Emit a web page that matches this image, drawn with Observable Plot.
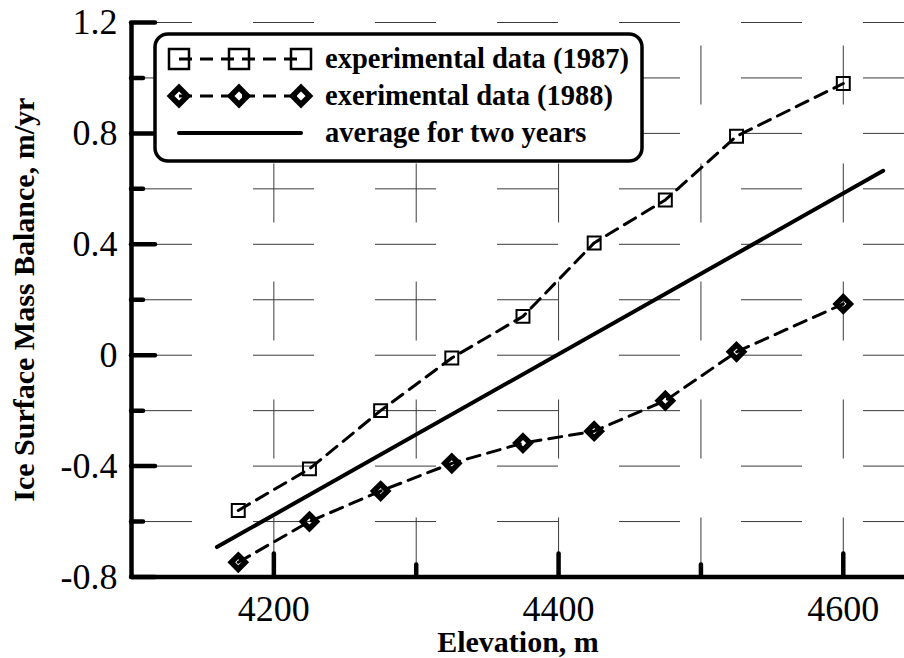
<!DOCTYPE html>
<html>
<head>
<meta charset="utf-8">
<script src="https://cdn.jsdelivr.net/npm/d3@7"></script>
<script src="https://cdn.jsdelivr.net/npm/@observablehq/plot@0.6"></script>
<style>
  html, body { margin: 0; padding: 0; background: #fff; }
  #chart svg { display: block; }
</style>
</head>
<body>
<div id="chart"></div>
<script>
// ---- data ----
const elevations = [4175, 4225, 4275, 4325, 4375, 4425, 4475, 4525, 4600];
const balance1987 = [-0.56, -0.41, -0.20, -0.01, 0.14, 0.405, 0.56, 0.79, 0.98];
const balance1988 = [-0.747, -0.60, -0.49, -0.39, -0.317, -0.274, -0.164, 0.012, 0.185];
const averageX = [4160, 4628];
const averageY = [-0.692, 0.665];

const seriesNames = ["experimental data (1987)", "exerimental data (1988)", "average for two years"];
const xTitle = "Elevation, m";
const yTitle = "Ice Surface Mass Balance, m/yr";

const xDomain = [4100, 4643];
const yDomain = [-0.8, 1.2];
const xMajor = [4200, 4400, 4600];
const xMinor = [4300, 4500];
const xGrid = [4200, 4300, 4400, 4500, 4600];
const yMajor = [-0.8, -0.4, 0, 0.4, 0.8, 1.2];
const yMinor = [-0.6, -0.2, 0.2, 0.6, 1.0];
const yGrid = [-0.6, -0.4, -0.2, 0, 0.2, 0.4, 0.6, 0.8, 1.0, 1.2];

const d1987 = elevations.map((x, i) => ({x, y: balance1987[i]}));
const d1988 = elevations.map((x, i) => ({x, y: balance1988[i]}));
const dAvg = averageX.map((x, i) => ({x, y: averageY[i]}));

const W = 904, H = 658;
const mL = 131, mR = 0, mT = 22, mB = 81.5;
const fw = W - mL - mR, fh = H - mT - mB;
const serif = "'Liberation Serif', 'Times New Roman', serif";
const dash = "13 8";

const plot = Plot.plot({
  width: W, height: H,
  marginLeft: mL, marginRight: mR, marginTop: mT, marginBottom: mB,
  x: {domain: xDomain},
  y: {domain: yDomain},
  style: {fontFamily: serif, background: "#fff", color: "#000", overflow: "visible"},
  marks: [
    Plot.ruleY(yGrid, {y: d => d, stroke: "#3a3a3a", strokeWidth: 1, strokeDasharray: "61 61"}),
    Plot.ruleX(xGrid, {x: d => d, y1: yDomain[0], y2: yDomain[1], stroke: "#3a3a3a", strokeWidth: 1, strokeDasharray: "59 59"}),
    Plot.line(dAvg, {x: "x", y: "y", stroke: "#000", strokeWidth: 4, strokeLinecap: "round"}),
    Plot.line(d1987, {x: "x", y: "y", stroke: "#000", strokeWidth: 3, strokeDasharray: dash}),
    Plot.line(d1988, {x: "x", y: "y", stroke: "#000", strokeWidth: 3, strokeDasharray: dash}),
    Plot.dot(d1987, {x: "x", y: "y", symbol: "square", r: 7.3, fill: "none", stroke: "#000", strokeWidth: 2}),
    Plot.dot(d1988, {x: "x", y: "y", symbol: "diamond2", r: 6.3, fill: "none", stroke: "#000", strokeWidth: 5.5, strokeLinejoin: "miter"}),
    Plot.tickY(yMajor, {y: d => d, insetRight: fw - 24, stroke: "#000", strokeWidth: 4.5, strokeLinecap: "round"}),
    Plot.tickY(yMinor, {y: d => d, insetRight: fw - 12, stroke: "#000", strokeWidth: 4.5, strokeLinecap: "round"}),
    Plot.tickX(xMajor, {x: d => d, insetTop: fh - 23, stroke: "#000", strokeWidth: 4.5, strokeLinecap: "round"}),
    Plot.tickX(xMinor, {x: d => d, insetTop: fh - 12, stroke: "#000", strokeWidth: 4.5, strokeLinecap: "round"}),
    Plot.ruleX([xDomain[0]], {stroke: "#000", strokeWidth: 4.5}),
    Plot.ruleY([yDomain[0]], {stroke: "#000", strokeWidth: 4.5}),
    Plot.axisX({ticks: xMajor, tickSize: 0, tickPadding: 18, fontSize: 36, tickFormat: d => String(d), label: null}),
    Plot.axisY({ticks: yMajor, tickSize: 0, tickPadding: 14, fontSize: 36, tickFormat: d => String(d), label: null}),
    Plot.text([xTitle], {text: d => d, frameAnchor: "bottom", textAnchor: "middle", lineAnchor: "middle", dy: 65, fontSize: 30, fontWeight: "bold"}),
    Plot.text([yTitle], {text: d => d, frameAnchor: "left", textAnchor: "middle", lineAnchor: "middle", dx: -107.6, rotate: -90, fontSize: 30, fontWeight: "bold"})
  ]
});

document.getElementById("chart").appendChild(plot);

// ---- legend (drawn inside the plot frame) ----
const svg = d3.select(plot);
const lg = svg.append("g").attr("class", "legend").attr("text-anchor", "start");
lg.append("rect")
  .attr("x", 155).attr("y", 34).attr("width", 487).attr("height", 127)
  .attr("rx", 13).attr("ry", 13)
  .attr("fill", "#fff").attr("stroke", "#000").attr("stroke-width", 3.5);

const rowsY = [59, 96, 133];
const symX = [179, 239, 301];
const sq = d3.symbol(d3.symbolSquare, 400)();
const dm = d3.symbol(d3.symbolDiamond2, 184)();

// row 1
lg.append("line").attr("x1", symX[0]).attr("x2", symX[2]).attr("y1", rowsY[0]).attr("y2", rowsY[0])
  .attr("stroke", "#000").attr("stroke-width", 3).attr("stroke-dasharray", dash);
symX.forEach(x => lg.append("path").attr("d", sq).attr("transform", `translate(${x},${rowsY[0]})`)
  .attr("fill", "none").attr("stroke", "#000").attr("stroke-width", 2.5));
// row 2
lg.append("line").attr("x1", symX[0]).attr("x2", symX[2]).attr("y1", rowsY[1]).attr("y2", rowsY[1])
  .attr("stroke", "#000").attr("stroke-width", 3).attr("stroke-dasharray", dash);
symX.forEach(x => lg.append("path").attr("d", dm).attr("transform", `translate(${x},${rowsY[1]})`)
  .attr("fill", "none").attr("stroke", "#000").attr("stroke-width", 5.5));
// row 3
lg.append("line").attr("x1", 179).attr("x2", 301).attr("y1", rowsY[2]).attr("y2", rowsY[2])
  .attr("stroke", "#000").attr("stroke-width", 4).attr("stroke-linecap", "round");

seriesNames.forEach((t, i) => lg.append("text")
  .attr("x", 325).attr("y", rowsY[i] + 9)
  .attr("text-anchor", "start")
  .attr("font-family", serif).attr("font-weight", "bold").attr("font-size", 28.5)
  .attr("fill", "#000").text(t));
</script>
</body>
</html>
